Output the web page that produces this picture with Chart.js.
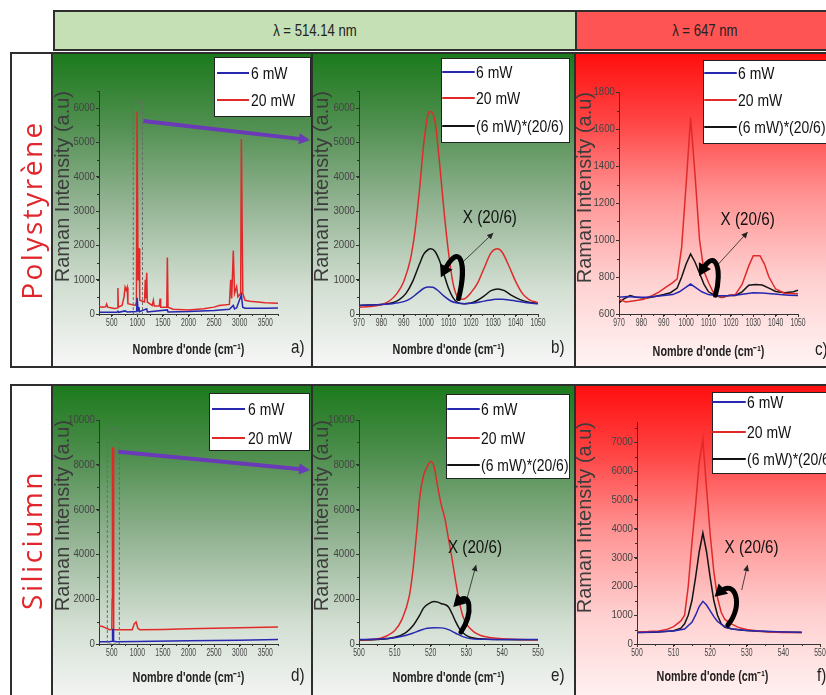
<!DOCTYPE html>
<html>
<head>
<meta charset="utf-8">
<script src="https://cdn.jsdelivr.net/npm/chart.js@4.4.1/dist/chart.umd.min.js"></script>
<style>
  body { margin: 0; width: 826px; height: 695px; overflow: hidden; position: relative; background: #fff;
         font-family: 'Liberation Sans', Arial, sans-serif; }
  .abs { position: absolute; }
  .green { background: linear-gradient(to bottom, #1b7a1b 0%, #4e8e4e 22%, #93b393 48%, #d3dfd3 75%, #f7f7f7 100%); }
  .red { background: linear-gradient(to bottom, #ff0e0e 0%, #ff4545 22%, #ff9292 45%, #ffd0d0 72%, #fff4f4 100%); }
  .frame { position: absolute; border: 2px solid #2e2e2e; box-sizing: border-box; }
  .vline { position: absolute; width: 2px; background: #2e2e2e; }
  .rowlabel { position: absolute; color: #e0262b; font-family: 'Open Sans', sans-serif; font-size: 28px;
              letter-spacing: 2.5px; transform: translate(-50%, -50%) rotate(-90deg); white-space: nowrap; }
  .tag { position: absolute; font-size: 19px; color: #222; transform: scaleX(0.8); transform-origin: left top; }
  .head { display: flex; align-items: center; justify-content: center; font-size: 16px; color: #222; }
  .head span { display: inline-block; transform: scaleX(0.82); }
  canvas { position: absolute; }
</style>
</head>
<body>
<!-- header -->
<div class="frame" style="left:53px;top:10px;width:782px;height:41px;display:flex">
  <div class="head" style="width:520px;background:#c5e0b4"><span>λ = 514.14 nm</span></div>
  <div class="head" style="flex:1;background:#ff5454;border-left:2px solid #2e2e2e"><span>λ = 647 nm</span></div>
</div>

<!-- panel backgrounds -->
<div class="abs green" style="left:53px;top:53px;width:259px;height:314px"></div>
<div class="abs green" style="left:312px;top:53px;width:263px;height:314px"></div>
<div class="abs red" style="left:575px;top:53px;width:262px;height:314px"></div>
<div class="abs green" style="left:53px;top:385px;width:259px;height:320px"></div>
<div class="abs green" style="left:312px;top:385px;width:263px;height:320px"></div>
<div class="abs red" style="left:575px;top:385px;width:262px;height:320px"></div>

<canvas id="ca" width="259" height="314" style="left:53px;top:53px"></canvas>
<canvas id="cb" width="263" height="314" style="left:312px;top:53px"></canvas>
<canvas id="cc" width="262" height="314" style="left:575px;top:53px"></canvas>
<canvas id="cd" width="259" height="310" style="left:53px;top:385px"></canvas>
<canvas id="ce" width="263" height="310" style="left:312px;top:385px"></canvas>
<canvas id="cf" width="262" height="310" style="left:575px;top:385px"></canvas>

<!-- frames -->
<div class="frame" style="left:10px;top:52px;width:830px;height:316px"></div>
<div class="vline" style="left:51px;top:52px;height:316px"></div>
<div class="vline" style="left:311px;top:52px;height:316px"></div>
<div class="vline" style="left:574px;top:52px;height:316px"></div>
<div class="frame" style="left:10px;top:384px;width:830px;height:330px"></div>
<div class="vline" style="left:51px;top:384px;height:330px"></div>
<div class="vline" style="left:311px;top:384px;height:330px"></div>
<div class="vline" style="left:574px;top:384px;height:330px"></div>

<div class="rowlabel" style="left:31px;top:210px">Polystyrène</div>
<div class="rowlabel" style="left:31px;top:540px">Siliciumn</div>

<div class="tag" style="left:291px;top:336px">a)</div>
<div class="tag" style="left:551px;top:336px">b)</div>
<div class="tag" style="left:815px;top:338px">c)</div>
<div class="tag" style="left:291px;top:664px">d)</div>
<div class="tag" style="left:551px;top:664px">e)</div>
<div class="tag" style="left:817px;top:664px">f)</div>

<canvas id="overlay" width="826" height="695" style="left:0;top:0;z-index:5;pointer-events:none"></canvas>

<script>
const SANS = "'Liberation Sans', Arial, sans-serif";
const LABELS2 = ['6 mW', '20 mW'];
const LABELS3 = ['6 mW', '20 mW', '(6 mW)*(20/6)'];

// ticks
const fullXTicks = [500, 1000, 1500, 2000, 2500, 3000, 3500];
const polyZoomXTicks = [970, 980, 990, 1000, 1010, 1020, 1030, 1040, 1050];
const siZoomXTicks = [500, 510, 520, 530, 540, 550];
const polyFullYTicks = [0, 1000, 2000, 3000, 4000, 5000, 6000];
const poly647YTicks = [600, 800, 1000, 1200, 1400, 1600, 1800];
const siYTicks = [0, 2000, 4000, 6000, 8000, 10000];
const si647YTicks = [0, 1000, 2000, 3000, 4000, 5000, 6000, 7000];

// a) polystyrene, full spectrum, 514 nm
const polyFullBlue = [[250,50],[600,50],[620,80],[632,50],[760,90],[800,60],[985,70],[996,470],[1004,470],[1016,90],[1030,200],[1042,70],[1183,150],[1195,60],[1587,120],[1600,60],[2000,70],[2500,100],[2800,140],[2876,250],[2900,150],[2942,180],[3034,560],[3046,560],[3060,200],[3104,170],[3500,170],[3750,175]];
const polyFullRed = [[250,230],[300,200],[380,210],[400,290],[420,200],[550,160],[600,170],[612,180],[620,760],[628,200],[700,250],[740,500],[760,780],[780,700],[800,780],[815,300],[960,250],[982,350],[994,5900],[1004,5900],[1014,1000],[1024,1900],[1034,1900],[1046,400],[1140,350],[1155,1000],[1165,450],[1183,1200],[1195,350],[1290,250],[1313,400],[1330,230],[1430,230],[1444,450],[1456,200],[1575,200],[1587,1650],[1600,200],[1700,140],[2000,120],[2300,150],[2500,200],[2600,250],[2800,280],[2825,1000],[2845,450],[2876,1850],[2900,600],[2942,800],[2965,500],[3020,600],[3034,5100],[3046,5100],[3062,600],[3104,400],[3200,370],[3500,330],[3750,310]];

// b) polystyrene zoom, 514 nm
const polyZoomBlue = [[970,250],[975,260],[980,280],[985,300],[990,360],[993,450],[996,600],[999,750],[1001,790],[1003,780],[1005,700],[1008,520],[1011,380],[1014,320],[1017,300],[1020,310],[1024,350],[1028,400],[1031,430],[1034,430],[1037,410],[1040,380],[1045,330],[1050,300]];
const polyZoomRed = [[970,200],[975,220],[980,270],[984,400],[987,600],[990,950],[993,1600],[995,2400],[997,3600],[999,5000],[1001,5850],[1002,5900],[1004,5600],[1006,4400],[1008,3000],[1010,1800],[1012,900],[1014,500],[1016,430],[1018,480],[1020,620],[1023,900],[1026,1350],[1029,1780],[1032,1900],[1034,1800],[1037,1400],[1040,950],[1043,600],[1046,420],[1050,330]];
const polyZoomScaled = [[970,250],[975,260],[980,280],[985,330],[988,420],[991,600],[994,950],[997,1450],[999,1750],[1001,1880],[1002,1900],[1004,1820],[1006,1550],[1008,1150],[1010,750],[1012,480],[1014,340],[1017,300],[1020,320],[1023,400],[1026,530],[1029,680],[1032,730],[1035,680],[1038,550],[1042,420],[1046,340],[1050,310]];

// c) polystyrene zoom, 647 nm
const poly647Blue = [[970,690],[974,695],[978,690],[982,690],[986,695],[990,700],[994,705],[997,720],[1000,745],[1002,762],[1004,745],[1007,720],[1010,705],[1014,698],[1018,698],[1022,702],[1026,708],[1030,715],[1034,714],[1038,710],[1042,705],[1046,702],[1050,700]];
const poly647Red = [[970,680],[973,665],[977,672],[981,680],[985,700],[988,720],[991,745],[994,770],[996,790],[998,960],[1000,1300],[1002,1660],[1004,1350],[1006,1000],[1008,830],[1010,770],[1012,720],[1014,700],[1016,690],[1019,700],[1022,705],[1025,760],[1028,860],[1030,915],[1033,915],[1035,870],[1037,800],[1040,735],[1044,712],[1050,710]];
const poly647Scaled = [[970,660],[972,680],[975,700],[978,690],[982,685],[986,695],[990,705],[993,715],[996,740],[998,800],[1000,870],[1002,925],[1004,880],[1006,820],[1008,760],[1010,720],[1013,700],[1016,690],[1019,700],[1022,700],[1025,720],[1028,755],[1031,760],[1034,757],[1037,740],[1040,722],[1044,715],[1048,720],[1050,728]];

// d) silicon, full spectrum, 514 nm
const siFullBlue = [[250,100],[450,100],[505,120],[515,650],[525,650],[535,120],[600,100],[1000,110],[2000,140],[3000,170],[3750,200]];
const siFullRed = [[250,800],[320,780],[400,700],[460,640],[500,650],[506,2000],[513,8750],[527,8750],[534,2000],[540,650],[600,640],[900,640],[940,900],[975,980],[1010,700],[1050,640],[1500,650],[2000,680],[3000,720],[3750,760]];

// e) silicon zoom, 514 nm
const siZoomBlue = [[500,200],[505,220],[510,280],[513,380],[515,480],[517,600],[519,700],[521,730],[523,720],[525,640],[527,480],[529,330],[531,240],[535,210],[540,200],[550,200]];
const siZoomRed = [[500,180],[503,200],[506,260],[508,380],[510,600],[512,1100],[514,2100],[515,3200],[516,4800],[517,6600],[518,7500],[519,7900],[520,8150],[521,7900],[522,7000],[523,6200],[524,5600],[525,4700],[526,3800],[527,2800],[528,1900],[529,1250],[530,900],[532,550],[534,380],[537,280],[540,230],[545,200],[550,190]];
const siZoomScaled = [[500,170],[505,200],[510,300],[513,500],[515,800],[517,1300],[518,1600],[520,1850],[521,1900],[522,1870],[523,1800],[524,1760],[525,1650],[526,1350],[527,1000],[528,700],[529,500],[531,300],[534,230],[540,200],[550,190]];

// f) silicon zoom, 647 nm
const si647Blue = [[500,400],[505,420],[510,450],[513,520],[515,750],[516,1000],[517,1300],[518,1480],[519,1350],[520,1150],[521,950],[522,780],[524,600],[526,520],[530,470],[535,440],[540,420],[545,410]];
const si647Red = [[500,420],[503,430],[506,450],[508,500],[510,600],[512,800],[513,1000],[514,2000],[515,3500],[516,4800],[517,6300],[518,7100],[519,5400],[520,3800],[521,2500],[522,1600],[523,1100],[524,850],[526,680],[528,560],[530,500],[533,450],[536,420],[540,400],[545,400]];
const si647Scaled = [[500,400],[505,410],[510,460],[512,550],[513,700],[514,1000],[515,1500],[516,2300],[517,3200],[518,3850],[519,3200],[520,2300],[521,1500],[522,1000],[523,700],[524,580],[526,520],[529,480],[533,440],[538,420],[545,400]];

const COLORS = ['#2727b0', '#e02a2a', '#141414'];

function arrowHead(ctx, x0, y0, x1, y1, len, half) {
  const a = Math.atan2(y1 - y0, x1 - x0);
  ctx.beginPath();
  ctx.moveTo(x1, y1);
  ctx.lineTo(x1 - len * Math.cos(a) + half * Math.sin(a), y1 - len * Math.sin(a) - half * Math.cos(a));
  ctx.lineTo(x1 - len * Math.cos(a) - half * Math.sin(a), y1 - len * Math.sin(a) + half * Math.cos(a));
  ctx.closePath();
  ctx.fill();
}

// the original uses a condensed face; squeeze a regular one
function narrowText(ctx, text, x, y, font, sx, align) {
  ctx.save();
  ctx.font = font; ctx.textAlign = align; ctx.textBaseline = 'middle';
  ctx.translate(x, y); ctx.scale(sx, 1);
  ctx.fillText(text, 0, 0);
  ctx.restore();
}

const decor = {
  id: 'decor',
  afterDraw(chart, args, opts) {
    const ctx = chart.ctx;
    const xs = chart.scales.x, ys = chart.scales.y;
    const px = v => xs.getPixelForValue(v), py = v => ys.getPixelForValue(v);
    ctx.save();
    // minor ticks
    if (opts.minor) {
      ctx.strokeStyle = '#333'; ctx.lineWidth = 1;
      ctx.beginPath();
      for (let v = xs.min; v <= xs.max + 1e-6; v += opts.minor[0]) {
        const x = Math.round(px(v)) + 0.5;
        ctx.moveTo(x, ys.bottom); ctx.lineTo(x, ys.bottom + 2);
      }
      for (let v = ys.min; v <= ys.max + 1e-6; v += opts.minor[1]) {
        const y = Math.round(py(v)) + 0.5;
        ctx.moveTo(xs.left, y); ctx.lineTo(xs.left - 2, y);
      }
      ctx.stroke();
    }
    // tick labels (condensed)
    ctx.fillStyle = '#444';
    xs.ticks.forEach(t => narrowText(ctx, String(t.value), px(t.value), ys.bottom + 9, '11px ' + SANS, 0.62, 'center'));
    ys.ticks.forEach(t => narrowText(ctx, String(t.value), xs.left - 4, py(t.value), '11px ' + SANS, 0.88, 'right'));
    // x axis title
    ctx.fillStyle = '#222';
    narrowText(ctx, "Nombre d'onde (cm⁻¹)", (xs.left + xs.right) / 2 + (opts.titleDx || 0),
               ys.bottom + opts.titleDy, 'bold 14px ' + SANS, 0.77, 'center');
    // dashed zoom box
    if (opts.box) {
      const [b0, b1, bt] = opts.box;
      ctx.strokeStyle = '#6a6a6a'; ctx.lineWidth = 1; ctx.setLineDash([3, 2]);
      ctx.strokeRect(px(b0), py(bt), px(b1) - px(b0), py(0) - py(bt));
      ctx.setLineDash([]);
    }
    // annotation: X (20/6)
    if (opts.note) {
      const n = opts.note;
      ctx.fillStyle = '#111';
      narrowText(ctx, 'X (20/6)', px(n.text[0]), py(n.text[1]), '19px ' + SANS, 0.8, 'center');
      const [a0, a1] = n.arrow;
      ctx.strokeStyle = '#333'; ctx.fillStyle = '#222'; ctx.lineWidth = 0.9;
      ctx.beginPath(); ctx.moveTo(px(a0[0]), py(a0[1])); ctx.lineTo(px(a1[0]), py(a1[1])); ctx.stroke();
      arrowHead(ctx, px(a0[0]), py(a0[1]), px(a1[0]), py(a1[1]), 6, 3);
      const c = n.curl.map(p => [px(p[0]), py(p[1])]);
      ctx.strokeStyle = '#000'; ctx.fillStyle = '#000'; ctx.lineWidth = 5; ctx.lineCap = 'round';
      ctx.beginPath(); ctx.moveTo(c[0][0], c[0][1]);
      ctx.bezierCurveTo(c[1][0], c[1][1], c[2][0], c[2][1], c[3][0], c[3][1]);
      ctx.stroke();
      const dx = c[3][0] - c[2][0], dy = c[3][1] - c[2][1], d = Math.hypot(dx, dy);
      arrowHead(ctx, c[3][0] - dx / d * 4, c[3][1] - dy / d * 4, c[3][0] + dx / d * 7, c[3][1] + dy / d * 7, 12, 7);
    }
    // legend box
    if (opts.legend) {
      const L = opts.legend;
      ctx.fillStyle = '#fff'; ctx.fillRect(L.x, L.y, L.w, L.h);
      ctx.strokeStyle = '#222'; ctx.lineWidth = 1; ctx.strokeRect(L.x + 0.5, L.y + 0.5, L.w, L.h);
      chart.data.datasets.forEach((ds, i) => {
        ctx.strokeStyle = ds.borderColor; ctx.lineWidth = 2;
        ctx.beginPath(); ctx.moveTo(L.x0, L.rows[i]); ctx.lineTo(L.x1, L.rows[i]); ctx.stroke();
        ctx.fillStyle = '#111';
        narrowText(ctx, ds.label, L.tx, L.rows[i] + 1, '17px ' + SANS, 0.82, 'left');
      });
    }
    ctx.restore();
  }
};

function makeChart(id, p) {
  const datasets = p.series.map((s, i) => ({
    label: p.labels[i],
    data: s.map(([x, y]) => ({ x, y })),
    borderColor: COLORS[i],
    borderWidth: 1.5,
    pointRadius: 0,
    tension: p.tension,
    cubicInterpolationMode: p.tension ? 'monotone' : 'default',
    fill: false
  }));
  const axisCommon = {
    type: 'linear',
    border: { display: true, color: '#333', width: 1 },
    grid: { display: true, drawOnChartArea: false, drawTicks: true, tickLength: 3, color: '#333' },
    ticks: { display: false }
  };
  return new Chart(document.getElementById(id), {
    type: 'line',
    data: { datasets },
    options: {
      responsive: false,
      animation: false,
      layout: { padding: p.pad },
      plugins: { legend: { display: false }, tooltip: { enabled: false }, decor: p.decor },
      scales: {
        x: Object.assign({}, axisCommon, {
          min: p.x[0], max: p.x[1],
          afterBuildTicks: s => { s.ticks = p.xTicks.map(v => ({ value: v })); },
          afterFit: s => { s.height = p.xH; }
        }),
        y: Object.assign({}, axisCommon, {
          min: p.y[0], max: p.y[1],
          afterBuildTicks: s => { s.ticks = p.yTicks.map(v => ({ value: v })); },
          afterFit: s => { s.width = p.yW; },
          title: { display: true, text: 'Raman Intensity (a.u)', align: 'end', color: '#3c3c3c', padding: 0,
                   font: { family: SANS, size: 20, lineHeight: 1 } }
        })
      }
    },
    plugins: [decor]
  });
}

const chA = makeChart('ca', {
  series: [polyFullBlue, polyFullRed], labels: LABELS2, tension: 0,
  x: [250, 3750], xTicks: fullXTicks, y: [0, 6500], yTicks: polyFullYTicks,
  pad: { top: 38, left: 0, right: 34, bottom: 9 }, yW: 46, xH: 44,
  decor: { minor: [250, 500], box: [920, 1100, 6200], titleDy: 36,
           legend: { x: 161, y: 4, w: 96, h: 59, rows: [20, 47], x0: 164, x1: 196, tx: 198 } }
});
const chB = makeChart('cb', {
  series: [polyZoomBlue, polyZoomRed, polyZoomScaled], labels: LABELS3, tension: 0.4,
  x: [970, 1050], xTicks: polyZoomXTicks, y: [0, 6500], yTicks: polyFullYTicks,
  pad: { top: 38, left: 0, right: 37, bottom: 9 }, yW: 47, xH: 44,
  decor: { minor: [5, 500], titleDy: 36,
           note: { text: [1028.5, 2800], arrow: [[1016, 1490], [1030, 2360]],
                   curl: [[1014.5, 450], [1018.5, 1500], [1015, 2150], [1008, 1250]] },
           legend: { x: 129, y: 5, w: 128, h: 84, rows: [19, 45, 73], x0: 131, x1: 162, tx: 164 } }
});
const chC = makeChart('cc', {
  series: [poly647Blue, poly647Red, poly647Scaled], labels: LABELS3, tension: 0,
  x: [970, 1050], xTicks: polyZoomXTicks, y: [600, 1800], yTicks: poly647YTicks,
  pad: { top: 39, left: 0, right: 39, bottom: 9 }, yW: 44, xH: 44,
  decor: { minor: [5, 100], titleDy: 38,
           note: { text: [1027.5, 1108], arrow: [[1013.6, 859], [1027.5, 1043]],
                   curl: [[1013.1, 702], [1016.3, 838], [1013.1, 962], [1007.3, 838]] },
           legend: { x: 128, y: 7, w: 140, h: 83, rows: [20, 47, 74], x0: 130, x1: 161, tx: 163 } }
});
const chD = makeChart('cd', {
  series: [siFullBlue, siFullRed], labels: LABELS2, tension: 0,
  x: [250, 3750], xTicks: fullXTicks, y: [0, 10000], yTicks: siYTicks,
  pad: { top: 35, left: 0, right: 34, bottom: 9 }, yW: 46, xH: 42,
  decor: { minor: [250, 1000], box: [413, 648, 9600], titleDy: 34,
           legend: { x: 156, y: 8, w: 100, h: 57, rows: [24, 53], x0: 159, x1: 192, tx: 195 } }
});
const chE = makeChart('ce', {
  series: [siZoomBlue, siZoomRed, siZoomScaled], labels: LABELS3, tension: 0.3,
  x: [500, 550], xTicks: siZoomXTicks, y: [0, 10000], yTicks: siYTicks,
  pad: { top: 35, left: 0, right: 37, bottom: 9 }, yW: 47, xH: 42,
  decor: { minor: [5, 1000], titleDy: 34,
           note: { text: [532.4, 4286], arrow: [[530.2, 2054], [532.7, 3527]],
                   curl: [[528.5, 536], [532.1, 1430], [531, 2411], [527.7, 1875]] },
           legend: { x: 134, y: 9, w: 123, h: 84, rows: [24, 53, 80], x0: 136, x1: 167, tx: 169 } }
});
const chF = makeChart('cf', {
  series: [si647Blue, si647Red, si647Scaled], labels: LABELS3, tension: 0,
  x: [500, 550], xTicks: siZoomXTicks, y: [0, 7700], yTicks: si647YTicks,
  pad: { top: 37, left: 0, right: 17, bottom: 9 }, yW: 62, xH: 42,
  decor: { minor: [5, 500], titleDy: 33, titleDx: -16,
           note: { text: [531.3, 3330], arrow: [[528.6, 1871], [530.2, 2737]],
                   curl: [[524.8, 658], [529.4, 1351], [526.7, 2287], [522.6, 1802]] },
           legend: { x: 137, y: 7, w: 130, h: 81, rows: [17, 47, 74], x0: 138, x1: 170, tx: 172 } }
});

// purple zoom arrows from full spectra to the zoomed panels
const ov = document.getElementById('overlay').getContext('2d');
function zoomArrow(src, srcOff, from, dst, dstOff, toY) {
  const x0 = srcOff[0] + src.scales.x.getPixelForValue(from[0]);
  const y0 = srcOff[1] + src.scales.y.getPixelForValue(from[1]);
  const x1 = dstOff[0] - 2;
  const y1 = dstOff[1] + dst.scales.y.getPixelForValue(toY);
  ov.strokeStyle = '#6a3ab8'; ov.fillStyle = '#6a3ab8'; ov.lineWidth = 4;
  ov.beginPath(); ov.moveTo(x0, y0); ov.lineTo(x1 - 6, y1 - (y1 - y0) * 6 / (x1 - x0)); ov.stroke();
  arrowHead(ov, x0, y0, x1, y1, 11, 5.5);
}
zoomArrow(chA, [53, 53], [1117, 5626], chB, [312, 53], 5070);
zoomArrow(chD, [53, 385], [628, 8585], chE, [312, 385], 7768);
</script>
</body>
</html>
